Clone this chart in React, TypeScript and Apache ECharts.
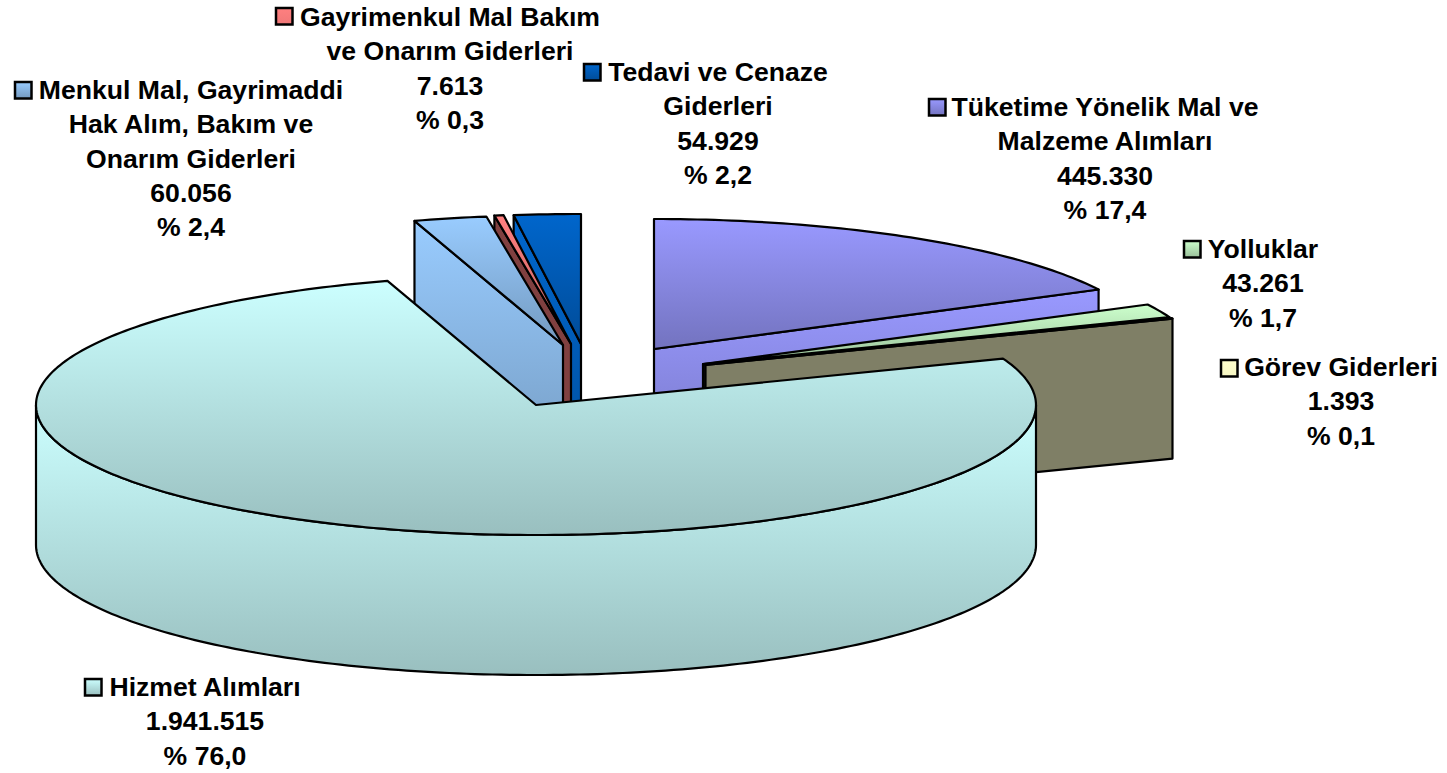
import React, { useEffect, useRef } from "react";
import * as echarts from "echarts";

// Data, in pie order (clockwise from 12 o'clock)
const names = [
  "Tüketime Yönelik Mal ve Malzeme Alımları",
  "Yolluklar",
  "Görev Giderleri",
  "Hizmet Alımları",
  "Menkul Mal, Gayrimaddi Hak Alım, Bakım ve Onarım Giderleri",
  "Gayrimenkul Mal Bakım ve Onarım Giderleri",
  "Tedavi ve Cenaze Giderleri",
];
const values = [445330, 43261, 1393, 1941515, 60056, 7613, 54929];
const valueLabels = ["445.330", "43.261", "1.393", "1.941.515", "60.056", "7.613", "54.929"];
const percentLabels = ["% 17,4", "% 1,7", "% 0,1", "% 76,0", "% 2,4", "% 0,3", "% 2,2"];
const nameLines = [
  ["Tüketime Yönelik Mal ve", "Malzeme Alımları"],
  ["Yolluklar"],
  ["Görev Giderleri"],
  ["Hizmet Alımları"],
  ["Menkul Mal, Gayrimaddi", "Hak Alım, Bakım ve", "Onarım Giderleri"],
  ["Gayrimenkul Mal Bakım", "ve Onarım Giderleri"],
  ["Tedavi ve Cenaze", "Giderleri"],
];

// Styling and layout (same order as the data)
const topColors = [
  ["#9999FF", "#7373BF"],
  ["#CCFFCC", "#99BF99"],
  ["#FFFFCC", "#BFBF99"],
  ["#CCFFFF", "#99BFBF"],
  ["#99CCFF", "#7399BF"],
  ["#FF8080", "#BF6060"],
  ["#0066CC", "#004C99"],
];
const keyColors = [
  ["#9999FF", "#7373BF"],
  ["#CCFFCC", "#99BF99"],
  ["#FFFFCC", "#F7F7C4"],
  ["#CCFFFF", "#99BFBF"],
  ["#99CCFF", "#7399BF"],
  ["#FF8080", "#F07878"],
  ["#0066CC", "#004C99"],
];
const wallColors = [
  ["#9999FF", "#7373BF"],
  ["#101010", "#101010"],
  ["#7F7F66", "#7F7F66"],
  ["#CCFFFF", "#99BFBF"],
  ["#99CCFF", "#7399BF"],
  ["#804040", "#804040"],
  ["#0066CC", "#00509F"],
];
const centers = [
  [654, 349],
  [703, 364],
  [705.5, 365],
  [536, 405],
  [563, 345],
  [571, 344],
  [581, 344],
];
const labelCenters = [
  [1105, 107],
  [1263, 249],
  [1341, 367],
  [205, 687],
  [191, 90],
  [450, 17],
  [718, 72],
];
const keyPositions = [
  [929, 99],
  [1184, 241],
  [1221, 360],
  [85, 679],
  [15, 82],
  [276, 8],
  [584, 64],
];
const paintOrder = [6, 5, 4, 0, 1, 2, 3];
const RX = 500;
const RY = 130;
const DEPTH = 140;
const LINE = 34.3;
const FONT = 'bold 26.6px "Liberation Sans", Arial, sans-serif';

const total = values.reduce((a, b) => a + b, 0);
const starts: number[] = [];
values.reduce((acc, v, i) => {
  starts[i] = acc;
  return acc + (v / total) * 360;
}, 0);

const rim = (c: number[], deg: number, dy = 0) => {
  const r = (deg * Math.PI) / 180;
  return [c[0] + RX * Math.sin(r), c[1] - RY * Math.cos(r) + dy];
};
const arc = (c: number[], a: number, b: number, dy = 0) => {
  const n = Math.max(2, Math.ceil(Math.abs(b - a)));
  const out: number[][] = [];
  for (let i = 0; i <= n; i++) out.push(rim(c, a + ((b - a) * i) / n, dy));
  return out;
};
const grad = (pair: string[]) =>
  new echarts.graphic.LinearGradient(0, 0, 0, 1, [
    { offset: 0, color: pair[0] },
    { offset: 1, color: pair[1] },
  ]);

const renderItem = (params: any) => {
  const i = paintOrder[params.dataIndex];
  const c = centers[i];
  const a = starts[i];
  const b = a + (values[i] / total) * 360;
  const base = { stroke: "#000", lineWidth: 2.2, lineJoin: "round" };
  const children: any[] = [];
  const poly = (points: number[][], fill: any) =>
    children.push({ type: "polygon", shape: { points }, style: { ...base, fill } });
  const face = (deg: number) =>
    poly([c, rim(c, deg), rim(c, deg, DEPTH), [c[0], c[1] + DEPTH]], grad(wallColors[i]));

  if (a > 180) face(a);
  if (b < 180) face(b);
  const ra = Math.max(a, 90);
  const rb = Math.min(b, 270);
  if (rb > ra) {
    poly([...arc(c, ra, rb), ...arc(c, rb, ra, DEPTH)], grad(wallColors[i]));
  }
  poly([c, ...arc(c, a, b)], grad(topColors[i]));

  const k = keyPositions[i];
  children.push({
    type: "rect",
    shape: { x: k[0], y: k[1], width: 16.5, height: 16.5 },
    style: { stroke: "#000", lineWidth: 2.5, fill: grad(keyColors[i]) },
  });
  const lines = [...nameLines[i], valueLabels[i], percentLabels[i]];
  const l = labelCenters[i];
  lines.forEach((text, n) =>
    children.push({
      type: "text",
      style: {
        text,
        x: l[0],
        y: l[1] + n * LINE,
        align: "center",
        verticalAlign: "middle",
        font: FONT,
        fill: "#000",
      },
    })
  );
  return { type: "group", children };
};

export default function App() {
  const ref = useRef<HTMLDivElement>(null);
  useEffect(() => {
    const chart = echarts.init(ref.current!, undefined, { renderer: "svg" });
    chart.setOption({
      animation: false,
      backgroundColor: "#fff",
      series: [
        {
          type: "custom",
          coordinateSystem: "none",
          silent: true,
          clip: false,
          renderItem,
          data: paintOrder.map((i) => ({ name: names[i], value: values[i] })),
        },
      ],
    });
    return () => chart.dispose();
  }, []);
  return (
    <div
      ref={ref}
      style={{ position: "absolute", left: 0, top: 0, width: 1447, height: 773 }}
    />
  );
}
